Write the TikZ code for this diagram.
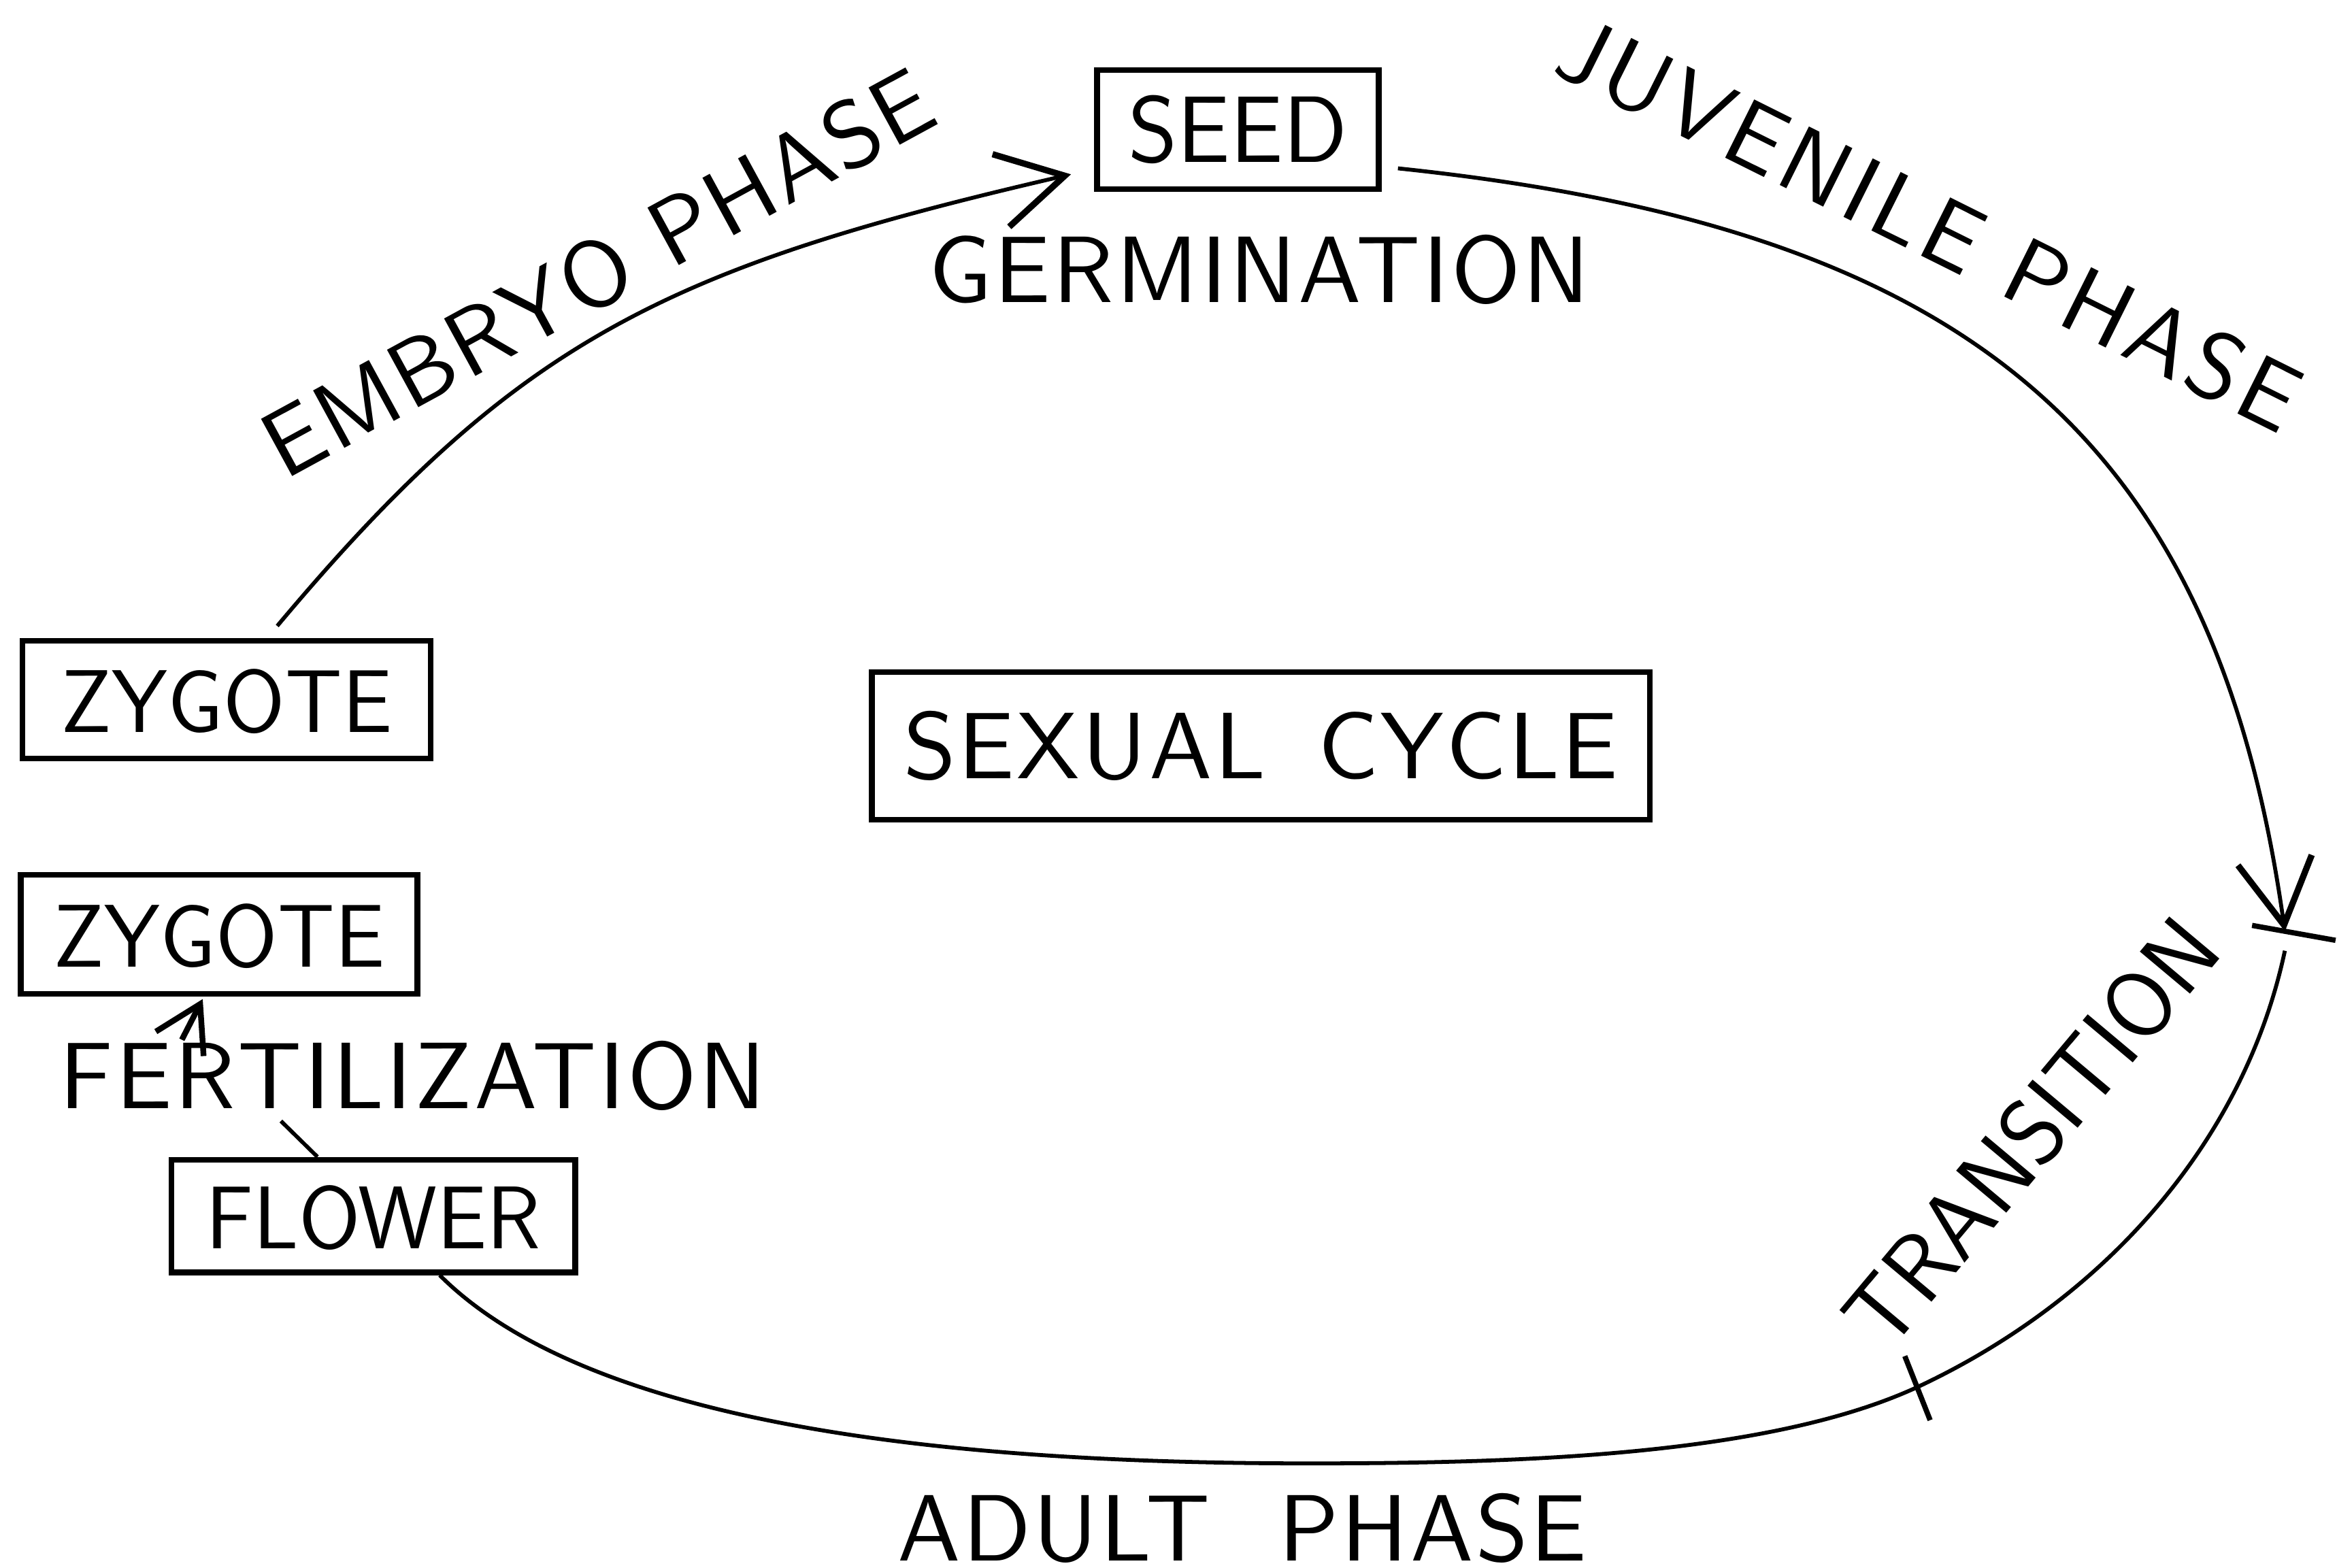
\documentclass[tikz,border=0pt]{standalone}
\usepackage{fontspec}
\usepackage{tikz}
\usetikzlibrary{arrows.meta}
\newfontfamily\spacedsans{lmsans10-regular.otf}[LetterSpace=2.5]
\newfontfamily\widesans{lmsans10-regular.otf}[LetterSpace=5]
\newcommand{\lettering}{\fontsize{18}{20}\selectfont\sffamily}
\newcommand{\spacedlettering}{\fontsize{18}{20}\selectfont\spacedsans}
\newcommand{\widelettering}{\fontsize{18}{20}\selectfont\widesans}
\newcommand{\smalllettering}{\fontsize{17}{19}\selectfont\sffamily}
\tikzset{box/.style = {draw, line width = 1.1pt, inner sep = 0, minimum height = 8mm, font = \lettering, text height = 12.5pt, text depth = 0pt}}
\tikzset{lbl/.style = {inner sep = 0, font = \spacedlettering, text height = 12.5pt, text depth = 0pt}}
\tikzset{arr/.style = {-{Straight Barb[length = 4.4mm, width = 5mm, line width = 1.2pt]}}}

\begin{document}
\begin{tikzpicture}[line width = 0.75pt]
    \useasboundingbox (0, 0) rectangle (15.68, 10.52);

    \node [box, minimum width = 1.89cm] (seed) at (8.305, 9.65) {SEED};
    \node [box, font = \smalllettering, minimum width = 2.74cm, minimum height = 7.9mm] (zyg1) at (1.52, 5.825) {ZYGOTE};
    \node [box, font = \smalllettering, minimum width = 2.66cm] (zyg2) at (1.47, 4.25) {ZYGOTE};
    \node [box, font = \smalllettering, minimum width = 2.71cm, minimum height = 7.55mm] (flower) at (2.505, 2.36) {FLOWER};
    \node [box, font = \spacedlettering, minimum width = 5.22cm, minimum height = 9.9mm] (cycle) at (8.46, 5.515) {SEXUAL\hspace{3.5mm}CYCLE};

    \node [lbl] (germ) at (8.45, 8.71) {GERMINATION};
    \node [lbl] (fert) at (2.77, 3.30) {FERTILIZATION};
    \node [lbl] (adult) at (8.335, 0.265) {ADULT\hspace{4.6mm}PHASE};
    \node [lbl, rotate = 28.6] (embryo) at (4.01, 8.69) {EMBRYO PHASE};
    \node [lbl, font = \widelettering, rotate = -26.5] (juvenile) at (12.95, 9.02) {JUVENILE PHASE};
    \node [lbl, font = \lettering, rotate = 50] (trans) at (13.63, 2.92) {TRANSITION};

    \coordinate (jt) at (15.33, 4.27);
    \coordinate (ta) at (12.86, 1.21);
    \coordinate (low) at (8.78, 0.70);

    \draw [arr] ([shift = {(0.34, 0.08)}]zyg1.north) to [out = 50, in = 193, out distance = 2.5cm, in distance = 2.8cm] ([shift = {(-0.155, -0.30)}]seed.west);
    \draw [arr] ([shift = {(0.11, -0.26)}]seed.east) to [out = -6, in = 98, out distance = 3.8cm, in distance = 3.4cm] (jt);
    \draw ([yshift = -1.3mm]jt) to [out = 258, in = 25, out distance = 1.3cm, in distance = 1.4cm] (ta)
      to [out = 204.7, in = 0, out distance = 1.1cm, in distance = 1.4cm] (low)
      to [out = 180, in = -45, out distance = 2.5cm, in distance = 1.4cm] ([xshift = 4.45mm]flower.south);

    \draw [line width = 1pt] (jt) ++(-0.22, 0.04) -- ++(0.56, -0.10);
    \draw [line width = 1pt] (ta) ++(-0.08, 0.21) -- ++(0.17, -0.43);

    \draw [line width = 1.1pt, -{Straight Barb[length = 3mm, width = 3.6mm]}] ([shift = {(-1.55, 0.01)}]fert.north) -- ([shift = {(-0.11, -0.015)}]zyg2.south);
    \draw ([shift = {(-0.885, -0.07)}]fert.south) -- ([xshift = -3.75mm]flower.north);
\end{tikzpicture}
\end{document}
